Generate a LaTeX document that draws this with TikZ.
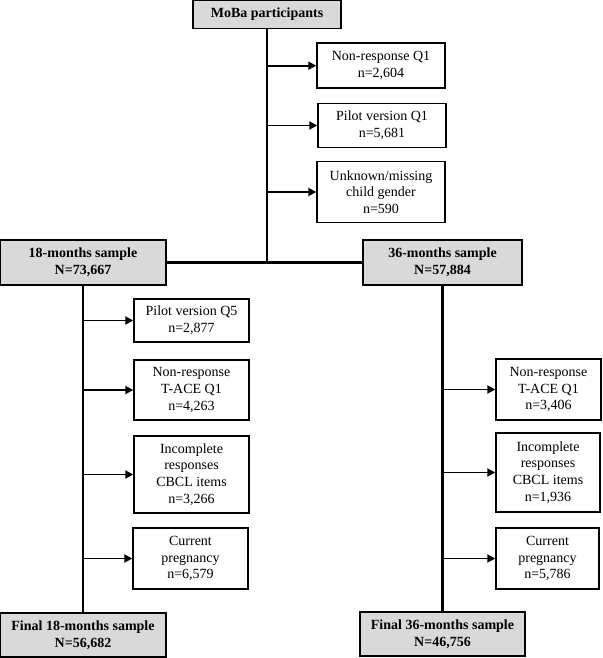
\documentclass[tikz,border=0pt]{standalone}
\usepackage{fontspec}
\setmainfont{Liberation Serif}
\usetikzlibrary{arrows.meta}

\tikzset{
  outbox/.style={draw, line width=1.4pt, fill=white, align=center, inner sep=0pt,
    font=\fontsize{14}{16.7}\selectfont},
  samplebox/.style={outbox, fill=gray!30, font=\fontsize{14}{16.7}\selectfont\bfseries},
  trunk/.style={line width=2.8pt},
  branch/.style={line width=1.8pt, -{Triangle[length=8pt,width=8pt]}}
}

\begin{document}
\begin{tikzpicture}[x=1pt,y=-1pt]
\useasboundingbox (0,0) rectangle (602,658);
% top of the flow
\node[samplebox, minimum width=148pt, minimum height=28pt] (moba) at (267,14.5) {MoBa participants};
\node[outbox, minimum width=128pt, minimum height=45pt] (nr1) at (381,65.7) {Non-response Q1\\n=2,604};
\node[outbox, minimum width=128pt, minimum height=44pt] (pv1) at (382,125.5) {Pilot version Q1\\n=5,681};
\node[outbox, minimum width=128pt, minimum height=61pt] (unk) at (381,192) {Unknown/missing\\child gender\\n=590};
\node[samplebox, minimum width=166pt, minimum height=45pt] (s18) at (83,262.5) {18-months sample\\N=73,667};
\node[samplebox, minimum width=159pt, minimum height=45pt] (s36) at (442.5,262.5) {36-months sample\\N=57,884};
\coordinate (split) at (267,262.5);
% 18 months
\node[outbox, minimum width=115pt, minimum height=43pt] (pv5) at (191.5,320.5) {Pilot version Q5\\n=2,877};
\node[outbox, minimum width=115pt, minimum height=60pt] (nrt18) at (191.5,390) {Non-response\\T-ACE Q1\\n=4,263};
\node[outbox, minimum width=115pt, minimum height=77pt] (inc18) at (191.5,474.5) {Incomplete\\responses\\CBCL items\\n=3,266};
\node[outbox, minimum width=115pt, minimum height=61pt] (cur18) at (190.5,558.5) {Current\\pregnancy\\n=6,579};
\node[samplebox, minimum width=166pt, minimum height=44pt] (f18) at (83,635) {Final 18-months sample\\N=56,682};
% 36 months
\node[outbox, minimum width=105pt, minimum height=61pt] (nrt36) at (548.5,389.5) {Non-response\\T-ACE Q1\\n=3,406};
\node[outbox, minimum width=104pt, minimum height=79pt] (inc36) at (548,472.5) {Incomplete\\responses\\CBCL items\\n=1,936};
\node[outbox, minimum width=103pt, minimum height=61pt] (cur36) at (547.5,558.5) {Current\\pregnancy\\n=5,786};
\node[samplebox, minimum width=165pt, minimum height=44pt] (f36) at (442.5,634) {Final 36-months sample\\N=46,756};

\draw[trunk] (moba.south) -- (split);
\draw[trunk] (s18.east) -- (s36.west);
\draw[trunk] (s18.south) -- (f18.north);
\draw[trunk] (s36.south) -- (f36.north);
\draw[branch] (moba.south |- nr1.west) -- (nr1.west);
\draw[branch] (moba.south |- pv1.west) -- (pv1.west);
\draw[branch] (moba.south |- unk.west) -- (unk.west);
\draw[branch] (s18.south |- pv5.west) -- (pv5.west);
\draw[branch] (s18.south |- nrt18.west) -- (nrt18.west);
\draw[branch] (s18.south |- inc18.west) -- (inc18.west);
\draw[branch] (s18.south |- cur18.west) -- (cur18.west);
\draw[branch] (s36.south |- nrt36.west) -- (nrt36.west);
\draw[branch] (s36.south |- inc36.west) -- (inc36.west);
\draw[branch] (s36.south |- cur36.west) -- (cur36.west);
\end{tikzpicture}
\end{document}
